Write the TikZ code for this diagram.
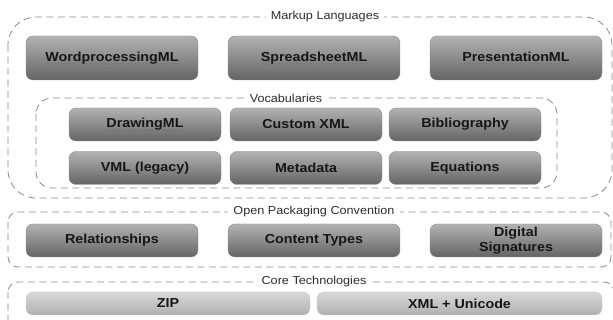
\documentclass[tikz,border=0pt]{standalone}
\usepackage{fontspec}
\setmainfont{Liberation Sans}
\newfontfamily\widefont[FakeStretch=1.1]{Liberation Sans}
\definecolor{boxtop}{HTML}{B2B2B2}
\definecolor{boxbot}{HTML}{646464}
\definecolor{coretop}{HTML}{D8D8D8}
\definecolor{corebot}{HTML}{B0B0B0}
\definecolor{frame}{HTML}{8C8C8C}
\definecolor{ink}{HTML}{161616}
% gray dotted squiggle under a word, like a spell checker mark
\newcommand{\squig}[1]{\setbox0\hbox{#1}%
    \rlap{\color{black!55}\raisebox{-3.2pt}{\hbox to \wd0{\xleaders\hbox{\rule{0.9pt}{0.8pt}\hskip0.5pt\raisebox{0.8pt}{\rule{0.9pt}{0.8pt}}\hskip0.5pt}\hfill}}}\box0}
\begin{document}
\begin{tikzpicture}[x=1pt, y=-1pt,
        part/.style={rounded corners=7pt, top color=boxtop, bottom color=boxbot, draw=black!45, line width=0.4pt,
            text=ink, font=\widefont\bfseries\fontsize{13}{15}\selectfont, align=center, inner sep=0pt},
        wide/.style={part, minimum width=172pt, minimum height=44pt},
        vocab/.style={part, minimum width=152pt, minimum height=33pt},
        opc/.style={part, minimum width=172pt, minimum height=33pt},
        core/.style={part, top color=coretop, bottom color=corebot, draw=black!20, minimum height=23pt, minimum width=284pt},
        group/.style={draw=frame, dashed, dash pattern=on 7pt off 4.5pt, line width=0.8pt},
        grouplabel/.style={fill=white, text=ink!90, font=\widefont\fontsize{11.5}{13}\selectfont, inner xsep=5pt, inner ysep=1pt}
    ]
        \useasboundingbox[fill=white] (0,0) rectangle (613,320);
        \clip (0,0) rectangle (613,320);

        % Markup languages
        \draw[group, rounded corners=28pt] (8,17) rectangle (612,198);
        \node[grouplabel] (ml) at (325,17) {Markup Languages};
        \node[wide] (wml) at (112,58) {\squig{WordprocessingML}};
        \node[wide] (sml) at (314,58) {\squig{SpreadsheetML}};
        \node[wide] (pml) at (516,58) {\squig{PresentationML}};

        % Vocabularies
        \draw[group, rounded corners=16pt] (36,98) rectangle (557,188);
        \node[grouplabel] (voc) at (286,98) {Vocabularies};
        \node[vocab] (dml) at (145,124.5) {\squig{DrawingML}};
        \node[vocab] (cxml) at (306,124.5) {Custom XML};
        \node[vocab] (bib) at (465,124.5) {Bibliography};
        \node[vocab] (vml) at (145,168) {VML (legacy)};
        \node[vocab] (meta) at (306,168) {Metadata};
        \node[vocab] (eq) at (465,168) {Equations};

        % Open packaging convention
        \draw[group, rounded corners=10pt] (8,212) rectangle (611,267);
        \node[grouplabel] (opcl) at (314,212) {Open Packaging Convention};
        \node[opc] (rel) at (112,240.5) {Relationships};
        \node[opc] (ct) at (314,240.5) {Content Types};
        \node[opc] (sig) at (516,240.5) {Digital\\Signatures};

        % Core technologies
        \draw[group, rounded corners=10pt] (8,282) rectangle (614,345);
        \node[grouplabel] (cor) at (314,282) {Core Technologies};
        \node[core] (zip) at (168,303.5) {ZIP};
        \node[core, minimum width=285pt] (xml) at (459.5,303.5) {XML + Unicode};
    \end{tikzpicture}
\end{document}
